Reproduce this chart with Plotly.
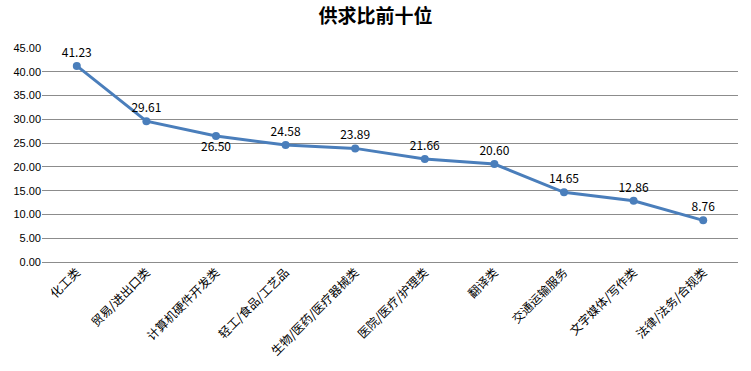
import plotly.graph_objects as go

categories = ["化工类", "贸易/进出口类", "计算机硬件开发类", "轻工/食品/工艺品", "生物/医药/医疗器械类",
              "医院/医疗/护理类", "翻译类", "交通运输服务", "文字媒体/写作类", "法律/法务/合规类"]
values = [41.23, 29.61, 26.50, 24.58, 23.89, 21.66, 20.60, 14.65, 12.86, 8.76]
label_pos = ["top center", "top center", "bottom center", "top center", "top center",
             "top center", "top center", "top center", "top center", "top center"]
y_ticks = [0, 5, 10, 15, 20, 25, 30, 35, 40, 45]

font = "Noto Sans CJK SC, sans-serif"

fig = go.Figure(go.Scatter(
    x=categories, y=values, mode="lines+markers+text",
    line=dict(color="#4A7EBB", width=3),
    marker=dict(color="#4A7EBB", size=8),
    text=[f"{v:.2f}" for v in values], textposition=label_pos,
    textfont=dict(family=font, size=12, color="#000"),
    cliponaxis=False,
))

fig.update_layout(
    width=751, height=371,
    margin=dict(l=42, r=13, t=48, b=109),
    paper_bgcolor="white", plot_bgcolor="white",
    title=dict(text="<b>供求比前十位</b>", x=0.5, xanchor="center", y=0.955, yanchor="middle",
               font=dict(family=font, size=19, color="#000")),
    showlegend=False,
    xaxis=dict(tickangle=-45, tickfont=dict(family=font, size=12, color="#000"),
               range=[-0.5, len(categories) - 0.5],
               showgrid=False, showline=False, ticks="", automargin=False),
    yaxis=dict(range=[0, 45], tickvals=y_ticks, ticktext=[f"{v:.2f}" for v in y_ticks],
               tickfont=dict(family="Liberation Sans, Arial", size=11, color="#000"),
               showgrid=True, gridcolor="#8c8c8c", gridwidth=1, zeroline=True,
               zerolinecolor="#8c8c8c", zerolinewidth=1, showline=False, automargin=False),
)

fig.write_html("out.html", config={"displayModeBar": False},
               post_script="document.body.style.margin='0';document.body.style.overflow='hidden';")
